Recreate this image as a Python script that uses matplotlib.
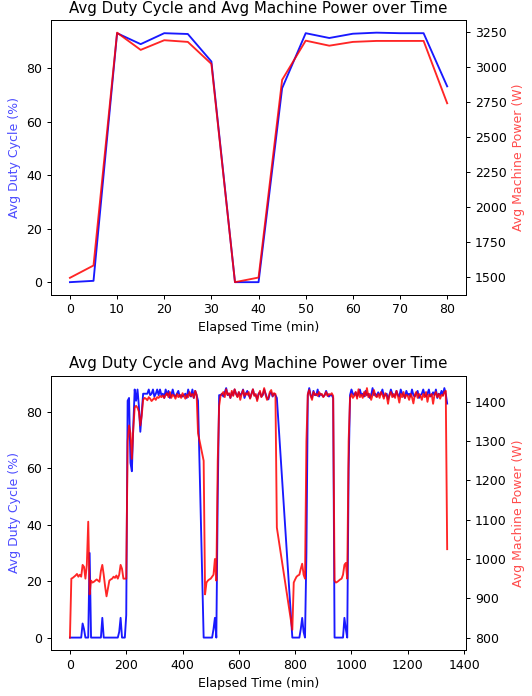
import matplotlib
matplotlib.use("Agg")
import matplotlib.pyplot as plt
import numpy as np

# ---- run 1: short test, 5 min buckets ----
t1 = [0, 5, 10, 15, 20, 25, 30, 35, 40, 45, 50, 55, 60, 65, 70, 75, 80]
duty1 = [0.0, 0.5, 93.2, 89.1, 93.2, 92.9, 82.6, 0.0, 0.0, 72.6,
         93.2, 91.4, 93.0, 93.4, 93.2, 93.2, 73.3]
power1 = [1493, 1581, 3243, 3120, 3189, 3177, 3020, 1462, 1495, 2906,
          3186, 3150, 3177, 3184, 3184, 3184, 2739]

# ---- run 2: long run, 5 min buckets with two logging gaps ----
t2_segments = [(0, 455), (475, 735), (790, 1340)]

duty2 = (
    # 0-195
    [0, 0, 0, 0, 0, 0, 0, 0, 0, 5, 3, 0, 0, 0, 30, 0, 0, 0, 0, 0,
     0, 0, 0, 7, 0, 0, 0, 0, 0, 0, 0, 0, 0, 0, 0, 2, 7, 0, 0, 0]
    # 200-255
    + [8, 84, 85, 62, 59, 75, 88, 84, 88, 82, 73, 80]
    # 260-450
    + [86.5, 86.5, 86.5, 86.5, 88, 86, 86.5, 88, 85.5, 86.5, 88, 86, 88,
       86, 86.5, 85, 88, 86, 87.5, 85, 86, 88, 86, 85.5, 86.5, 87.5,
       85.5, 86, 85.5, 86, 86.5, 85, 88, 86, 85.5, 88, 85, 87.5, 86]
    + [84]
    # 475-530
    + [0, 0, 0, 0, 0, 0, 0, 3, 7, 0, 50, 86]
    # 535-730
    + [86, 86.5, 85.5, 87, 88.5, 86, 86.5, 85, 87, 86, 88, 86.5, 85.5, 87,
       86, 86.5, 88, 85, 86.5, 87.5, 86, 85, 86.5, 88, 86, 86, 84.5, 86.5,
       87, 85.5, 86, 88, 86.5, 85, 84.5, 86.5, 87, 85.5, 86.5, 86]
    + [85]
    # 790-845
    + [0, 0, 0, 0, 0, 0, 3, 7, 2, 0, 30, 86]
    # 850-935
    + [88.5, 86, 85, 87.5, 86, 86, 88, 85.5, 86.5, 86, 85.5, 86, 87.5, 86,
       85.5, 86, 86, 85]
    # 940-995
    + [0, 0, 0, 0, 0, 0, 0, 7, 3, 0, 60, 86]
    # 1000-1335
    + [88, 86.5, 86, 87, 85.5, 86.5, 88, 86, 86.5, 85.5, 87.5, 86, 86.5, 85, 86, 88.5, 86,
       86.5, 85.5, 87, 86, 86.5, 88, 85.5, 86, 86.5, 84.5, 86, 88, 86.5, 85.5, 86, 87.5, 86,
       85.5, 88, 86.5, 86, 85, 87.5, 86, 86.5, 85.5, 88, 86, 85.5, 86.5, 87.5, 85, 86, 86.5,
       88, 86, 85.5, 86.5, 88, 85.5, 86, 87, 86, 88, 85, 86.5, 86, 87.5, 86, 88.5, 86.5]
    + [83]
)

power2 = (
    # 0-195
    [800, 950, 952, 955, 958, 962, 955, 960, 955, 985, 980, 950, 985, 1095, 910,
     945, 940, 942, 945, 948, 945, 942, 970, 985, 960, 930, 905, 925, 945, 948,
     950, 955, 952, 958, 950, 960, 985, 975, 950, 950]
    # 200-255
    + [950, 1300, 1340, 1320, 1255, 1330, 1385, 1390, 1385, 1375, 1340, 1365]
    # 260-450
    + [1405, 1410, 1408, 1404, 1412, 1408, 1402, 1406, 1410, 1405, 1412, 1410, 1415,
       1412, 1416, 1410, 1418, 1422, 1412, 1425, 1410, 1418, 1415, 1408, 1420, 1412,
       1418, 1410, 1422, 1415, 1408, 1418, 1412, 1425, 1415, 1420, 1410, 1428, 1418]
    + [1320]
    # 475-530
    + [1250, 910, 940, 945, 948, 950, 955, 960, 1000, 945, 1250, 1390]
    # 535-730
    + [1415, 1420, 1425, 1412, 1432, 1418, 1422, 1410, 1428, 1415, 1432, 1420, 1412,
       1425, 1405, 1420, 1430, 1415, 1422, 1418, 1425, 1408, 1420, 1432, 1415, 1420,
       1402, 1418, 1428, 1412, 1420, 1435, 1418, 1405, 1410, 1425, 1430, 1415, 1422, 1420]
    + [1080]
    # 790-845
    + [820, 940, 948, 955, 958, 960, 975, 988, 960, 950, 1300, 1420]
    # 850-935
    + [1430, 1415, 1405, 1425, 1418, 1420, 1415, 1425, 1418, 1420, 1412, 1418, 1425,
       1415, 1420, 1418, 1422, 1415]
    # 940-995
    + [945, 940, 942, 945, 948, 950, 960, 985, 990, 950, 1300, 1410]
    # 1000-1335
    + [1420, 1410, 1415, 1425, 1408, 1432, 1412, 1418, 1410, 1425, 1415, 1435, 1412, 1420, 1405, 1418, 1430,
       1415, 1412, 1420, 1410, 1425, 1418, 1408, 1422, 1415, 1395, 1418, 1425, 1412, 1420, 1410, 1428, 1415,
       1398, 1420, 1412, 1425, 1410, 1418, 1415, 1405, 1420, 1412, 1396, 1418, 1425, 1410, 1420, 1415, 1405,
       1420, 1412, 1425, 1400, 1418, 1415, 1420, 1395, 1418, 1425, 1412, 1420, 1408, 1418, 1415, 1425, 1428]
    + [1025]
)

t2 = np.concatenate([np.arange(a, b + 1, 5) for a, b in t2_segments])
assert len(t2) == len(duty2) == len(power2), (len(t2), len(duty2), len(power2))


def plot_run(ax, t, duty, power):
    ax.plot(t, duty, color="blue", alpha=0.9)
    ax.set_xlabel("Elapsed Time (min)")
    ax.set_ylabel("Avg Duty Cycle (%)", color="blue", alpha=0.7)
    ax2 = ax.twinx()
    ax2.plot(t, power, color="red", alpha=0.85)
    ax2.set_ylabel("Avg Machine Power (W)", color="red", alpha=0.7)
    ax.set_title("Avg Duty Cycle and Avg Machine Power over Time")
    return ax2


# rendered at 90 dpi so text sits a bit smaller, as in the source figure
DPI = 90
fig, (ax_top, ax_bot) = plt.subplots(2, 1, figsize=(532 / DPI, 696 / DPI), dpi=DPI)
fig.subplots_adjust(left=0.096, right=0.876, top=0.971, bottom=0.066, hspace=0.295)

plot_run(ax_top, t1, duty1, power1)
plot_run(ax_bot, t2, duty2, power2)

fig.savefig("out.png", dpi=DPI)
